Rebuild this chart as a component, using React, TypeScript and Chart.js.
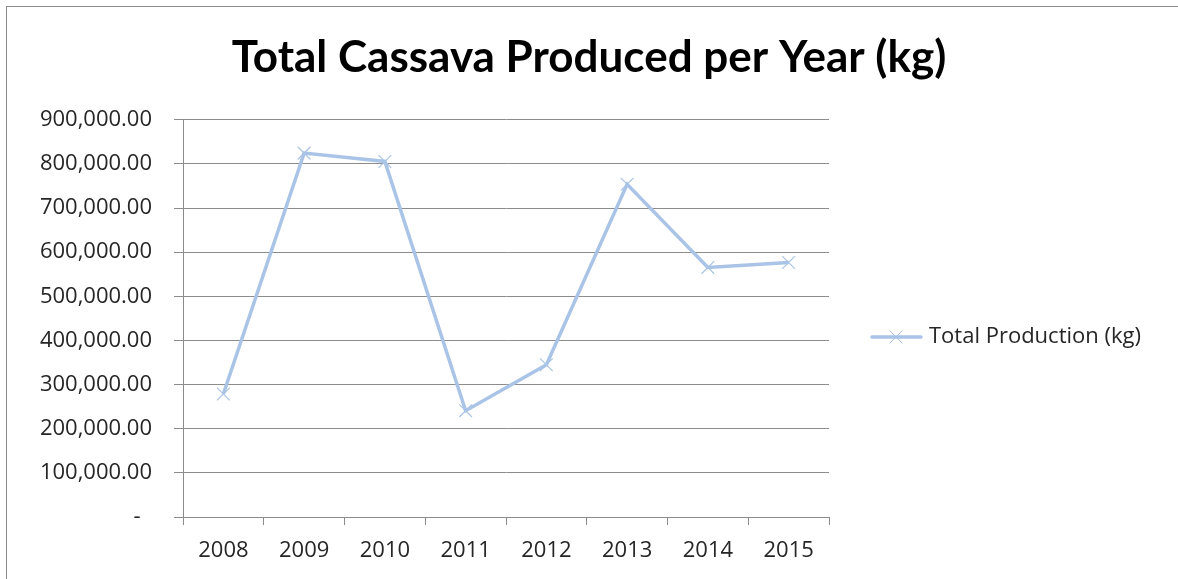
import React, { useEffect, useRef } from 'react';
import { Chart, registerables } from 'chart.js';

Chart.register(...registerables);

const years = ['2008', '2009', '2010', '2011', '2012', '2013', '2014', '2015'];
const production = [278600, 824500, 805600, 240900, 345000, 754000, 565500, 576800];
const chartTitle = 'Total Cassava Produced per Year (kg)';
const seriesLabel = 'Total Production (kg)';
const yMax = 900000;
const yStep = 100000;

const LINE_COLOR = '#A9C4E6';
const MARKER_COLOR = '#A9C4E6';
const GRID_COLOR = '#8C8C8C';
const TEXT_COLOR = '#262626';
const TITLE_FONT = 'Lato, "Open Sans", sans-serif';
const FONT = '"Open Sans", Lato, sans-serif';
const TEXT_SIZE = 22;

const frameAndLegend = {
  id: 'frameAndLegend',
  beforeDraw(chart: any) {
    const ctx = chart.ctx;
    ctx.save();
    ctx.fillStyle = '#ffffff';
    ctx.fillRect(0, 0, chart.width, chart.height);
    ctx.strokeStyle = '#8a8a8a';
    ctx.lineWidth = 1;
    ctx.strokeRect(6.5, 6.5, chart.width + 10, chart.height + 10);
    ctx.restore();
  },
  afterDraw(chart: any) {
    const ctx = chart.ctx;
    const y = 337;
    ctx.save();
    ctx.strokeStyle = LINE_COLOR;
    ctx.lineWidth = 3.5;
    ctx.lineCap = 'round';
    ctx.beginPath();
    ctx.moveTo(872, y);
    ctx.lineTo(921, y);
    ctx.stroke();
    ctx.strokeStyle = MARKER_COLOR;
    ctx.lineWidth = 1;
    ctx.beginPath();
    ctx.moveTo(890, y - 6);
    ctx.lineTo(902, y + 6);
    ctx.moveTo(902, y - 6);
    ctx.lineTo(890, y + 6);
    ctx.stroke();
    ctx.fillStyle = TEXT_COLOR;
    ctx.font = `${TEXT_SIZE}px ${FONT}`;
    ctx.textBaseline = 'middle';
    ctx.textAlign = 'left';
    ctx.fillText(chart.data.datasets[0].label, 929, y);
    ctx.restore();
  },
};

export default function App() {
  const ref = useRef<HTMLCanvasElement | null>(null);

  useEffect(() => {
    if (!ref.current) return;
    const chart = new Chart(ref.current, {
      type: 'line',
      data: {
        labels: years,
        datasets: [
          {
            label: seriesLabel,
            data: production,
            borderColor: LINE_COLOR,
            backgroundColor: MARKER_COLOR,
            borderWidth: 3.5,
            pointStyle: 'crossRot',
            pointRadius: 9,
            pointBorderWidth: 1.2,
            pointBorderColor: MARKER_COLOR,
            tension: 0,
            yAxisID: 'y',
          },
        ],
      },
      plugins: [frameAndLegend],
      options: {
        responsive: false,
        animation: false,
        layout: { padding: 0 },
        plugins: {
          legend: { display: false },
          tooltip: { enabled: false },
          title: {
            display: true,
            text: chartTitle,
            color: '#000000',
            font: { family: TITLE_FONT, size: 44, weight: 'bold', lineHeight: 1.2 },
            padding: { top: 31, bottom: 36 },
          },
        },
        scales: {
          x: {
            offset: true,
            grid: {
              offset: true,
              drawOnChartArea: false,
              drawTicks: true,
              tickLength: 8,
              color: GRID_COLOR,
            },
            border: { display: true, color: GRID_COLOR },
            ticks: {
              color: TEXT_COLOR,
              font: { family: FONT, size: TEXT_SIZE },
              padding: 13,
              maxRotation: 0,
            },
            afterFit(scale: any) {
              scale.height = 62;
            },
          },
          y: {
            min: 0,
            max: yMax,
            grid: {
              color: GRID_COLOR,
              drawTicks: true,
              tickLength: 9,
            },
            border: { display: true, color: GRID_COLOR },
            ticks: {
              stepSize: yStep,
              color: TEXT_COLOR,
              font: { family: FONT, size: TEXT_SIZE },
              padding: 22,
              callback: (v: any) =>
                Number(v) === 0
                  ? '-  '
                  : Number(v).toLocaleString('en-US', {
                      minimumFractionDigits: 2,
                      maximumFractionDigits: 2,
                    }),
            },
            afterFit(scale: any) {
              scale.width = 183;
            },
          },
          legendSpace: {
            type: 'linear',
            position: 'right',
            display: true,
            grid: { display: false, drawOnChartArea: false },
            border: { display: false },
            ticks: { display: false },
            afterFit(scale: any) {
              scale.width = 1178 - 829;
            },
          },
        },
      },
    });
    return () => chart.destroy();
  }, []);

  return (
    <div style={{ position: 'fixed', left: 0, top: 0, width: 1178, height: 579, overflow: 'hidden', background: '#fff' }}>
      <canvas ref={ref} width={1178} height={579} style={{ width: 1178, height: 579, display: 'block' }} />
    </div>
  );
}
